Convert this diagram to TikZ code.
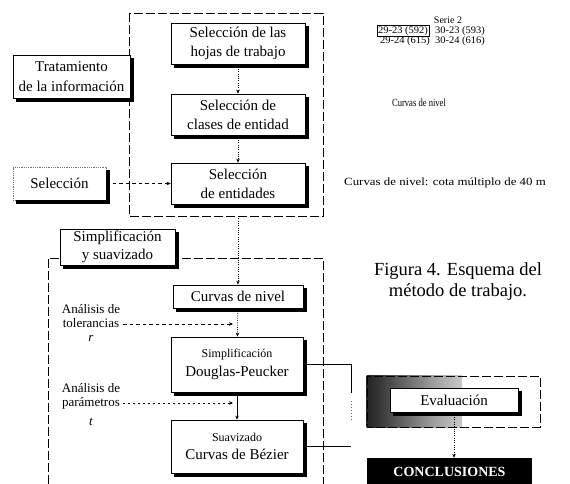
\documentclass[tikz,border=0pt]{standalone}
\usepackage{fontspec}
\setmainfont{Liberation Serif}
\usetikzlibrary{arrows.meta}

% dark-to-light band behind the evaluation step
\pgfdeclarehorizontalshading{evalshade}{100bp}{%
  color(0bp)=(black); color(14bp)=(black); color(32bp)=(black!78);
  color(60bp)=(black!38); color(85bp)=(black!10); color(100bp)=(white)}

% solid shadow strip along the right and lower edge of a box
\newcommand{\boxshadow}[1]{%
  \fill[black] ([yshift=-3.2pt]#1.north east) rectangle ([xshift=3.2pt,yshift=-3.2pt]#1.south east);
  \fill[black] ([xshift=3.2pt]#1.south west) rectangle ([xshift=3.2pt,yshift=-3.2pt]#1.south east);}

\tikzset{
  tip/.tip={Stealth[length=4pt,width=3.5pt]},
  proc/.style={draw, line width=0.8pt, fill=white, align=center, inner sep=1pt,
    font=\fontsize{15}{19}\selectfont},
  faintproc/.style={proc, draw=black!55, densely dotted},
  frame/.style={line width=0.8pt, dash pattern=on 9pt off 3pt},
  flow/.style={line width=0.6pt, dash pattern=on 1pt off 1.3pt, -tip},
  link/.style={line width=0.6pt, -tip},
  feed/.style={line width=0.6pt, dash pattern=on 3.5pt off 3pt, -tip},
  thinlink/.style={line width=0.6pt},
  note/.style={align=center, inner sep=0pt},
  small/.style={note, font=\fontsize{13}{14}\selectfont},
}

\begin{document}
\begin{tikzpicture}[x=1pt, y=-1pt]
\useasboundingbox (0,0) rectangle (570,484);
\fill[white] (0,0) rectangle (570,484);

% ---------- upper stage: information handling ----------
\draw[frame] (129,13) rectangle (323,216);

\node[proc, minimum width=134pt, minimum height=41pt] (hojas) at (238,43.5)
  {Selección de las\\hojas de trabajo};
\node[proc, minimum width=134pt, minimum height=41pt] (clases) at (238,114.5)
  {Selección de\\clases de entidad};
\node[proc, minimum width=134pt, minimum height=41pt] (entidades) at (238,183.5)
  {Selección\\de entidades};

\node[proc, minimum width=117pt, minimum height=43pt,
      font=\fontsize{15}{20}\selectfont] (trat) at (71.5,76.5)
  {Tratamiento\\de la información};
\node[faintproc, minimum width=93pt, minimum height=33pt] (sel) at (59.5,183.5)
  {Selección};

\boxshadow{hojas}\boxshadow{clases}\boxshadow{entidades}
\boxshadow{trat}\boxshadow{sel}

\draw[flow] (hojas) -- (clases);
\draw[flow] (clases) -- (entidades);
\draw[feed] (sel) -- (entidades);

% notes on the right
\node[note, font=\fontsize{10}{10}\selectfont] (serie) at (448,20) {Serie 2};
\node[note, font=\fontsize{10}{10}\selectfont, draw, line width=0.5pt,
      inner xsep=1pt, inner ysep=1pt] (h592) at (403,31) {\scalebox{1.05}[1]{29-23 (592)}};
\node[note, font=\fontsize{10}{10}\selectfont] (h593) at (460,31) {\scalebox{1.05}[1]{30-23 (593)}};
\node[note, font=\fontsize{10}{10}\selectfont] (h615) at (405,41) {\scalebox{1.05}[1]{29-24 (615)}};
\node[note, font=\fontsize{10}{10}\selectfont] (h616) at (460,41) {\scalebox{1.05}[1]{30-24 (616)}};

\node[note, font=\fontsize{11}{11}\selectfont] (cnivel) at (419,103)
  {\scalebox{0.78}[1]{Curvas de nivel}};
\node[note, font=\fontsize{11}{11}\selectfont] (cota) at (445,183)
  {\scalebox{1.17}[1]{Curvas de nivel: cota múltiplo de 40 m}};

% ---------- lower stage: simplification and smoothing ----------
\draw[frame] (48,484) -- (48,258) -- (323,258) -- (323,484);
\node[proc, minimum width=115pt, minimum height=36pt,
      font=\fontsize{15}{18}\selectfont] (simp) at (117.5,247)
  {Simplificación\\y suavizado};

\node[proc, minimum width=130pt, minimum height=23pt] (cdn) at (238,296.5)
  {Curvas de nivel};
\node[proc, minimum width=132pt, minimum height=55pt] (dp) at (237,364.5)
  {{\fontsize{12}{19}\selectfont Simplificación}\\Douglas-Peucker};
\node[proc, minimum width=132pt, minimum height=53pt,
      font=\fontsize{15}{18}\selectfont] (bez) at (237,446.5)
  {{\fontsize{12}{18}\selectfont Suavizado}\\Curvas de Bézier};

\boxshadow{simp}\boxshadow{cdn}\boxshadow{dp}\boxshadow{bez}

\coordinate (upperExit) at (238,216);
\draw[flow] (upperExit) -- (cdn);
\draw[flow] (cdn) -- (dp);
\draw[link] (dp) -- (bez);

% tolerance and parameter analyses
\node[small, inner xsep=3pt] (tol) at (91,323)
  {Análisis de\\tolerancias\\\textit{r}};
\node[small, inner xsep=3pt] (par) at (91,405)
  {Análisis de\\parámetros\\[5pt]\textit{t}};
\coordinate (tolEnd) at (233,324);
\coordinate (parEnd) at (233,403);
\draw[feed] (tol.east |- tolEnd) -- (tolEnd);
\draw[feed, dash pattern=on 2pt off 3pt] (par.east |- parEnd) -- (parEnd);

% outputs gathered towards the evaluation
\coordinate (joinTop) at (351,393);
\coordinate (joinMid) at (351,401);
\coordinate (joinLow) at (351,421);
\draw[thinlink] (dp.east) -| (joinTop);
\draw[line width=0.5pt, black!60, dash pattern=on 1pt off 2pt] (joinMid) -- (joinLow);
\draw[thinlink] (bez.east) -- (bez.east -| joinTop);

% ---------- evaluation and conclusions ----------
\shade[shading=evalshade] (366.6,375.6) rectangle (462,427.4);
\draw[frame] (367,376) rectangle (540,427);
\node[proc, minimum width=128pt, minimum height=24pt] (eval) at (454,400)
  {Evaluación};
\boxshadow{eval}
\node[fill=black, text=white, font=\fontsize{14}{14}\bfseries\selectfont,
      minimum width=165pt, minimum height=28pt, inner sep=0pt] (concl) at (449.5,472)
  {CONCLUSIONES};
\draw[flow] (eval.south) -- (eval.south |- concl.north);

% caption
\node[note, font=\fontsize{18.5}{21}\selectfont] (caption) at (458,282)
  {Figura 4. Esquema del\\método de trabajo.};
\end{tikzpicture}
\end{document}
